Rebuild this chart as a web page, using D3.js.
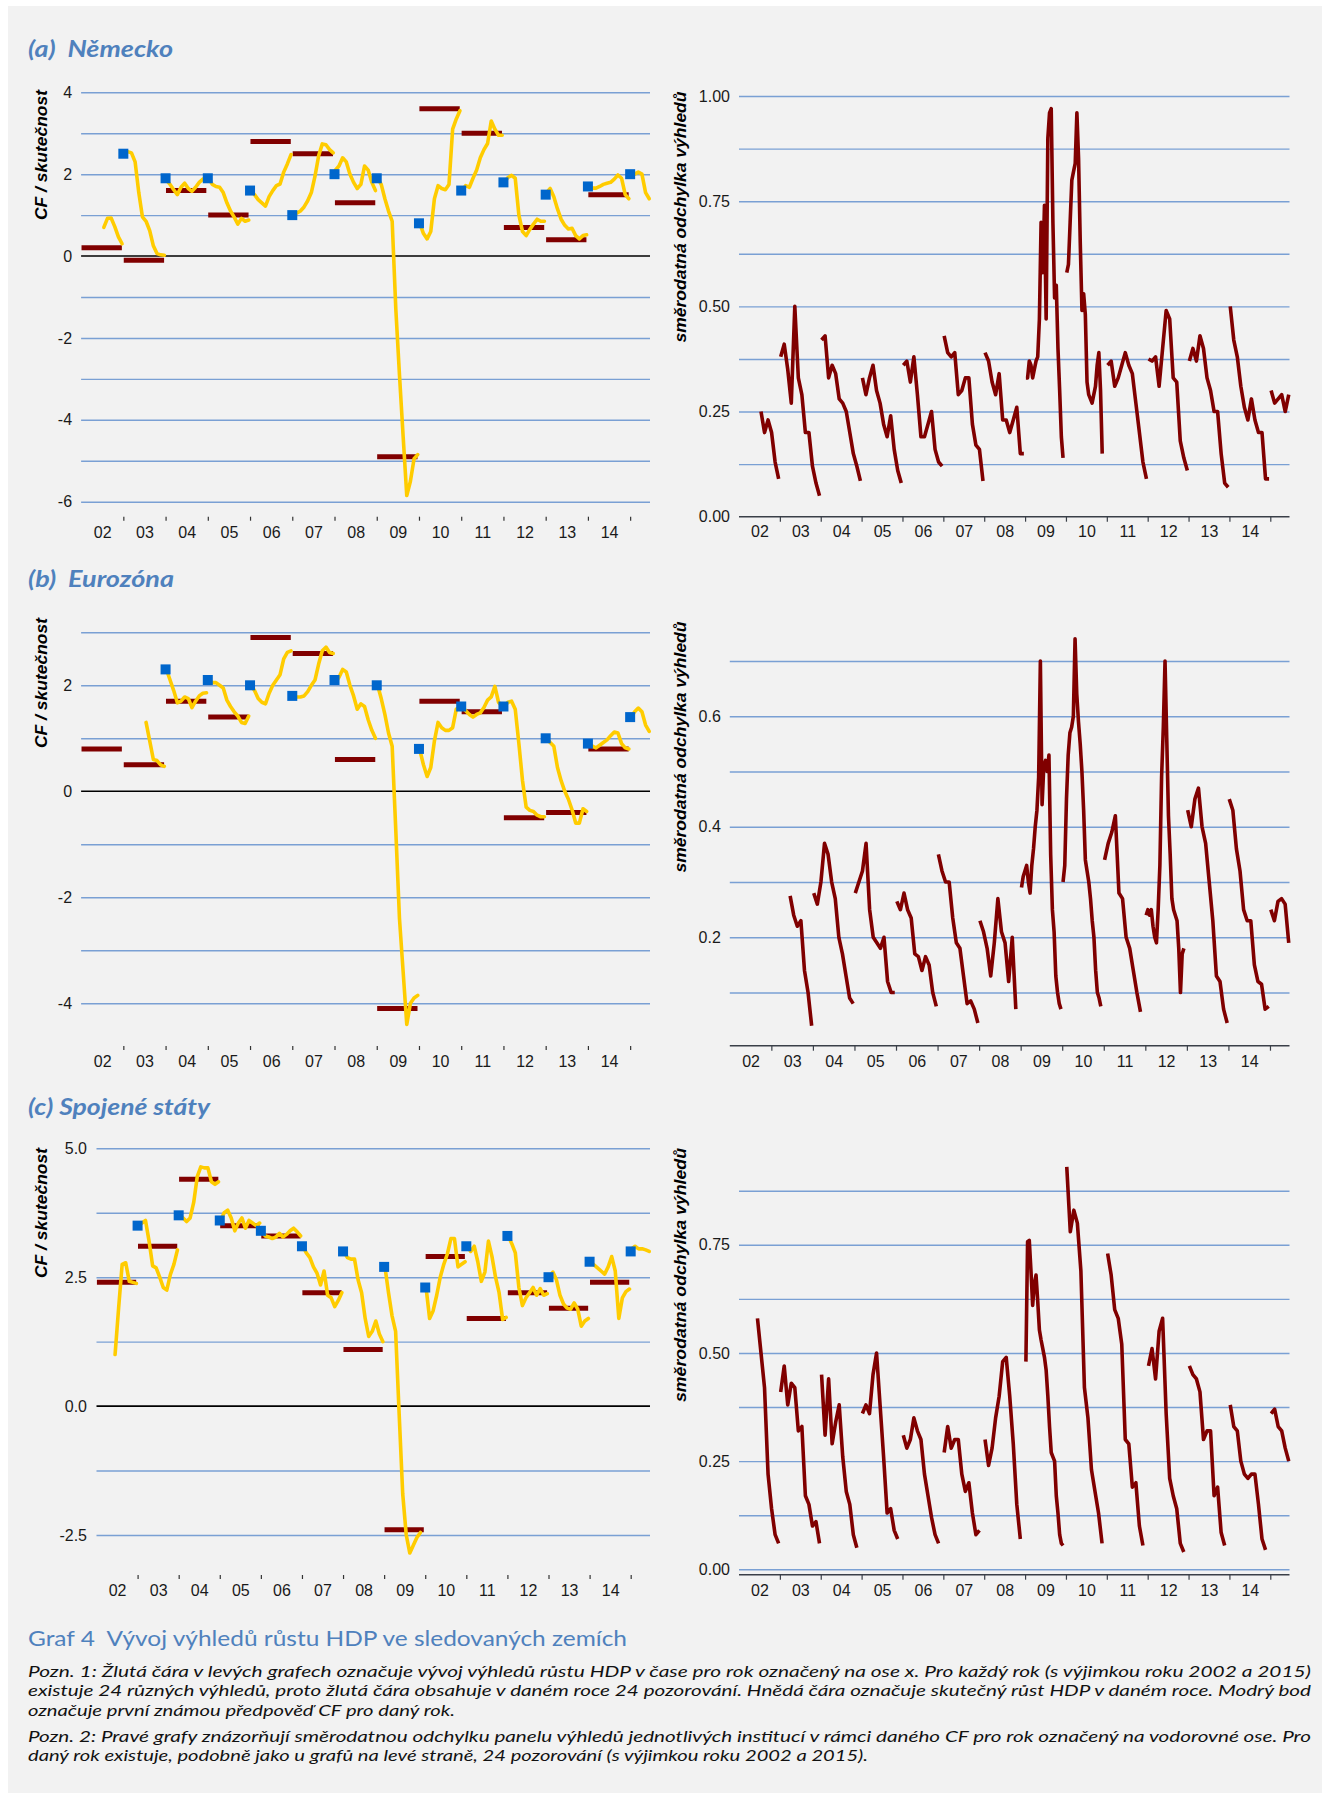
<!DOCTYPE html>
<html><head><meta charset="utf-8">
<script src="https://cdn.jsdelivr.net/npm/d3@7/dist/d3.min.js"></script>
<style>body{margin:0;background:#fff}svg{display:block}text{white-space:pre}</style>
</head><body>
<svg id="chart" width="1322" height="1793"></svg>
<script>
// ---------- DATA ----------
const years = [2002,2003,2004,2005,2006,2007,2008,2009,2010,2011,2012,2013,2014,2015];
const yearLabels = ["02","03","04","05","06","07","08","09","10","11","12","13","14"];
const boundaryYears = [2003,2004,2005,2006,2007,2008,2009,2010,2011,2012,2013,2014,2015];

// actual GDP growth (brown bars), 2002..2014
const deActual = [0.2,-0.1,1.6,1.0,2.8,2.5,1.3,-4.9,3.6,3.0,0.7,0.4,1.5];
const ezActual = [0.8,0.5,1.7,1.4,2.9,2.6,0.6,-4.1,1.7,1.5,-0.5,-0.4,0.8];
const usActual = [2.4,3.1,4.4,3.5,3.3,2.2,1.1,-2.4,2.9,1.7,2.2,1.9,2.4];

// first known CF forecast (blue squares), 2003..2015
const deFirst = [2.5,1.9,1.9,1.6,1.0,2.0,1.9,0.8,1.6,1.8,1.5,1.7,2.0];
const ezFirst = [null,2.3,2.1,2.0,1.8,2.1,2.0,0.8,1.6,1.6,1.0,0.9,1.4];
const usFirst = [3.5,3.7,3.6,3.4,3.1,3.0,2.7,2.3,3.1,3.3,2.5,2.8,3.0];

// forecast paths (yellow), one array per target year 2002..2015
const deYellow = [
 [null,null,null,null,null,null,0.7,0.92,0.93,0.72,0.47,0.3],
 [2.5,2.55,2.52,2.3,1.55,0.96,0.85,0.62,0.25,0.06,0.03,0.02],
 [1.85,1.75,1.62,1.5,1.68,1.78,1.65,1.58,1.68,1.8,1.88,1.92],
 [1.9,1.75,1.7,1.68,1.55,1.3,1.1,0.95,0.78,0.92,0.85,0.88],
 [1.6,1.5,1.38,1.3,1.22,1.45,1.6,1.72,1.76,2.05,2.25,2.48],
 [1.02,1.05,1.1,1.2,1.35,1.55,1.95,2.45,2.74,2.72,2.6,2.52],
 [2.1,2.2,2.4,2.3,2.0,1.8,1.65,1.75,2.2,2.1,1.8,1.6],
 [1.9,1.75,1.4,1.1,0.85,-1.3,-2.9,-4.4,-5.85,-5.5,-4.95,-4.85],
 [0.8,0.55,0.42,0.6,1.4,1.72,1.65,1.62,1.75,3.1,3.35,3.55],
 [1.6,1.72,1.68,1.9,2.1,2.4,2.6,2.75,3.3,3.1,2.95,2.95],
 [1.8,1.92,1.97,1.9,1.0,0.6,0.5,0.65,0.78,0.9,0.85,0.85],
 [1.55,1.65,1.45,1.15,0.9,0.75,0.66,0.68,0.5,0.42,0.5,0.52],
 [1.7,1.66,1.66,1.7,1.75,1.78,1.8,1.88,1.98,1.9,1.5,1.4],
 [2.0,2.0,2.05,2.0,1.55,1.4,null,null,null,null,null,null]
];
const ezYellow = [
 [null,null,null,null,null,null,null,null,null,null,null,null],
 [null,null,null,null,null,null,1.3,0.95,0.6,0.58,0.5,0.47],
 [2.3,2.1,1.9,1.67,1.7,1.78,1.75,1.58,1.7,1.8,1.85,1.86],
 [2.1,2.05,2.05,2.0,1.95,1.72,1.6,1.5,1.42,1.3,1.28,1.42],
 [2.0,1.9,1.75,1.68,1.65,1.85,2.0,2.1,2.2,2.5,2.62,2.65],
 [1.8,1.78,1.78,1.8,1.88,2.0,2.1,2.4,2.65,2.72,2.62,2.6],
 [2.05,2.15,2.3,2.25,2.0,1.8,1.55,1.65,1.6,1.35,1.15,1.0],
 [2.0,1.75,1.45,1.1,0.85,-0.75,-2.4,-3.4,-4.4,-4.0,-3.9,-3.85],
 [0.78,0.5,0.28,0.45,0.95,1.3,1.2,1.15,1.15,1.2,1.55,1.6],
 [1.6,1.52,1.45,1.4,1.45,1.48,1.58,1.72,1.78,1.98,1.68,1.6],
 [1.6,1.68,1.7,1.55,0.9,0.2,-0.3,-0.36,-0.38,-0.45,-0.48,-0.48],
 [1.0,0.92,0.85,0.45,0.2,0.0,-0.15,-0.35,-0.6,-0.6,-0.33,-0.38],
 [0.9,0.85,0.82,0.87,0.92,0.97,1.05,1.12,1.1,0.9,0.82,0.8],
 [1.4,1.5,1.57,1.5,1.25,1.13,null,null,null,null,null,null]
];
const usYellow = [
 [null,null,null,null,null,1.0,1.9,2.75,2.78,2.42,2.4,2.38],
 [3.5,3.55,3.6,3.2,2.72,2.68,2.5,2.3,2.25,2.55,2.75,3.03],
 [3.7,3.65,3.58,3.65,3.95,4.45,4.64,4.62,4.62,4.35,4.3,4.35],
 [3.6,3.75,3.8,3.65,3.4,3.55,3.65,3.45,3.6,3.55,3.5,3.55],
 [3.4,3.3,3.28,3.25,3.28,3.35,3.28,3.33,3.4,3.45,3.38,3.3],
 [3.1,2.97,2.88,2.7,2.58,2.35,2.62,2.15,2.1,1.93,2.05,2.2],
 [3.0,2.88,2.85,2.85,2.45,2.2,1.7,1.35,1.45,1.65,1.4,1.25],
 [2.7,2.2,1.75,1.45,-0.15,-1.7,-2.5,-2.85,-2.7,-2.55,-2.45,null],
 [2.3,1.7,1.85,2.15,2.5,2.75,2.95,3.25,3.25,2.7,2.75,2.8],
 [3.1,3.0,3.1,2.8,2.42,2.6,3.2,2.9,2.5,2.2,1.68,1.72],
 [3.3,3.15,2.97,2.3,1.95,2.1,2.2,2.3,2.15,2.28,2.15,2.18],
 [2.5,2.6,2.45,2.15,1.98,1.9,1.88,2.0,1.88,1.55,1.65,1.7],
 [2.8,2.74,2.68,2.62,2.56,2.7,2.9,2.62,1.7,2.1,2.22,2.27],
 [3.05,3.1,3.05,3.05,3.03,3.0,null,null,null,null,null,null]
];

// standard deviation of the panel forecasts, one array per target year 2002..2015
const deStd = [
 [null,null,null,null,null,null,0.25,0.2,0.23,0.2,0.13,0.09],
 [0.38,0.41,0.35,0.27,0.5,0.33,0.29,0.2,0.2,0.12,0.08,0.05],
 [0.42,0.43,0.33,0.36,0.34,0.28,0.27,0.25,0.2,0.15,0.12,0.085],
 [0.33,0.29,0.33,0.36,0.3,0.27,0.22,0.19,0.24,0.16,0.11,0.08],
 [0.36,0.37,0.32,0.38,0.29,0.19,0.19,0.22,0.25,0.16,0.13,0.12],
 [0.43,0.39,0.38,0.39,0.29,0.3,0.33,0.33,0.22,0.17,0.16,0.085],
 [0.39,0.37,0.32,0.29,0.34,0.23,0.23,0.2,0.23,0.26,0.15,0.15],
 [0.33,0.33,0.37,0.36,0.33,0.35,0.37,0.38,0.47,0.7,0.58,0.74,0.47,0.9,0.96,0.97,0.7,0.52,0.55,0.4,0.3,0.19,0.14,null],
 [0.58,0.6,0.7,0.8,0.82,0.84,0.96,0.85,0.65,0.49,0.53,0.48,0.32,0.29,0.28,0.27,0.29,0.31,0.36,0.39,0.3,0.15,null,null],
 [0.36,0.37,0.31,0.33,0.36,0.39,0.36,0.34,0.27,0.2,0.13,0.09],
 [0.375,0.37,0.38,0.31,0.4,0.49,0.47,0.33,0.32,0.18,0.14,0.11],
 [0.37,0.4,0.37,0.43,0.4,0.33,0.3,0.25,0.25,0.15,0.08,0.07],
 [0.5,0.42,0.38,0.31,0.26,0.23,0.28,0.23,0.2,0.2,0.09,0.09],
 [0.3,0.27,0.28,0.29,0.25,0.29,null,null,null,null,null,null]
];
const ezStd = [
 [null,null,null,null,null,null,null,null,null,null,null,null],
 [null,null,null,null,null,0.275,0.24,0.22,0.23,0.14,0.1,0.04],
 [0.28,0.26,0.3,0.37,0.35,0.3,0.27,0.2,0.17,0.13,0.09,0.08],
 [0.28,0.3,0.32,0.37,0.25,0.2,0.19,0.18,0.2,0.12,0.1,0.1],
 [0.265,0.25,0.28,0.25,0.235,0.17,0.165,0.14,0.165,0.15,0.1,0.075],
 [0.35,0.32,0.3,0.3,0.235,0.19,0.18,0.13,0.08,0.085,0.07,0.045],
 [0.23,0.21,0.18,0.13,0.19,0.27,0.21,0.19,0.12,0.2,0.07,null],
 [0.29,0.31,0.32,0.33,0.3,0.28,0.33,0.36,0.4,0.43,0.49,0.7,0.44,0.51,0.52,0.5,0.53,0.35,0.25,0.21,0.13,0.1,0.08,0.07],
 [0.3,0.33,0.45,0.53,0.57,0.58,0.6,0.74,0.64,0.59,0.55,0.5,0.43,0.34,0.32,0.3,0.27,0.23,0.2,0.14,0.1,0.09,0.075,null],
 [0.34,0.37,0.39,0.42,0.28,0.27,0.2,0.18,0.14,0.1,0.065,null],
 [0.24,0.25,0.24,0.25,0.22,0.2,0.19,0.25,0.33,0.49,0.58,0.7,0.56,0.42,0.35,0.27,0.25,0.24,0.23,0.18,0.1,0.17,0.18,null],
 [0.43,0.4,0.45,0.47,0.4,0.37,0.3,0.23,0.13,0.12,0.07,0.045],
 [0.45,0.43,0.36,0.32,0.25,0.23,0.23,0.15,0.12,0.115,0.07,0.075],
 [0.25,0.23,0.265,0.27,0.26,0.19,null,null,null,null,null,null]
];
const usStd = [
 [null,null,null,null,null,0.58,0.5,0.42,0.22,0.14,0.08,0.06],
 [0.41,0.47,0.38,0.43,0.42,0.32,0.33,0.17,0.15,0.1,0.11,0.06],
 [0.45,0.31,0.44,0.29,0.34,0.38,0.26,0.18,0.15,0.08,0.05,null],
 [0.36,0.38,0.36,0.45,0.5,0.38,0.26,0.13,0.14,0.09,0.07,null],
 [0.31,0.28,0.3,0.35,0.32,0.3,0.22,0.17,0.12,0.08,0.06,null],
 [0.27,0.33,0.28,0.3,0.3,0.22,0.18,0.2,0.13,0.08,0.09,null],
 [0.3,0.24,0.28,0.35,0.4,0.48,0.49,0.4,0.29,0.15,0.07,null],
 [0.48,0.757,0.76,0.69,0.61,0.66,0.68,0.62,0.553,0.53,0.51,0.49,0.46,0.4,0.33,0.27,0.26,0.25,0.17,0.13,0.08,0.06,0.055,null],
 [0.93,0.78,0.83,0.8,0.69,0.42,0.35,0.23,0.18,0.13,0.06,null],
 [0.73,0.68,0.6,0.58,0.52,0.3,0.29,0.19,0.2,0.1,0.055,null],
 [0.47,0.51,0.44,0.55,0.58,0.36,0.21,0.17,0.14,0.06,0.04,null],
 [0.47,0.45,0.44,0.41,0.3,0.32,0.32,0.17,0.19,0.085,0.055,null],
 [0.38,0.33,0.32,0.25,0.22,0.21,0.22,0.22,0.15,0.07,0.045,null],
 [0.36,0.37,0.33,0.32,0.28,0.25,null,null,null,null,null,null]
];

// axis tick values
const deLeftGrid = [-6,-5,-4,-3,-2,-1,0,1,2,3,4];
const deLeftTicks = [-6,-4,-2,0,2,4];
const ezLeftGrid = [-4,-3,-2,-1,0,1,2,3];
const ezLeftTicks = [-4,-2,0,2];
const usLeftGrid = [-2.5,-1.25,0,1.25,2.5,3.75,5];
const usLeftTicks = [-2.5,0,2.5,5];
const deRightGrid = [0.125,0.25,0.375,0.5,0.625,0.75,0.875,1.0];
const deRightTicks = [0,0.25,0.5,0.75,1.0];
const ezRightGrid = [0.1,0.2,0.3,0.4,0.5,0.6,0.7];
const ezRightTicks = [0.2,0.4,0.6];
const usRightGrid = [0,0.125,0.25,0.375,0.5,0.625,0.75,0.875];
const usRightTicks = [0,0.25,0.5,0.75];

const titles = ["(a)  Německo","(b)  Eurozóna","(c) Spojené státy"];
const leftTitle = "CF / skutečnost";
const rightTitle = "směrodatná odchylka výhledů";
const caption = "Graf 4  Vývoj výhledů růstu HDP ve sledovaných zemích";
const notes = [
 "Pozn. 1: Žlutá čára v levých grafech označuje vývoj výhledů růstu HDP v čase pro rok označený na ose x. Pro každý rok (s výjimkou roku 2002 a 2015)",
 "existuje 24 různých výhledů, proto žlutá čára obsahuje v daném roce 24 pozorování. Hnědá čára označuje skutečný růst HDP v daném roce. Modrý bod",
 "označuje první známou předpověď CF pro daný rok.",
 "Pozn. 2: Pravé grafy znázorňují směrodatnou odchylku panelu výhledů jednotlivých institucí v rámci daného CF pro rok označený na vodorovné ose. Pro",
 "daný rok existuje, podobně jako u grafů na levé straně, 24 pozorování (s výjimkou roku 2002 a 2015)."
];

// ---------- STYLE ----------
const C = {bg:"#f2f2f2", grid:"#7aa0d4", yellow:"#ffcc00", brown:"#800000", blue:"#0066cc", title:"#4f81bd", text:"#1a1a1a"};
const AX_FONT = "'Liberation Sans', Arial, sans-serif";

const svg = d3.select("#chart");
svg.append("rect").attr("x",8).attr("y",6).attr("width",1314).attr("height",1787).attr("fill",C.bg);

const minusFmt = d => String(d);

function styleAxis(g){
  g.select(".domain").remove();
  g.selectAll("text").attr("font-family",AX_FONT).attr("font-size",16).attr("fill",C.text);
}

function drawLeft(L, actual, first, yellow, gridVals, tickVals, fmt){
  const x = d3.scaleLinear().domain([2002, 2015.47]).range([L.x0, 650]);
  const y = d3.scaleLinear().domain(L.yDom).range(L.yRange);
  const g = svg.append("g");
  const grid = g.append("g").attr("transform",`translate(${L.x0},0)`)
    .call(d3.axisLeft(y).tickValues(gridVals.filter(v=>v!==0)).tickSize(-(650-L.x0)).tickFormat(""));
  grid.select(".domain").remove();
  grid.selectAll("line").attr("stroke",C.grid).attr("stroke-width",1.4);
  g.append("line").attr("x1",L.x0).attr("x2",650).attr("y1",y(0)).attr("y2",y(0)).attr("stroke","#000").attr("stroke-width",1.6);
  const ya = g.append("g").attr("transform",`translate(${L.x0},0)`)
    .call(d3.axisLeft(y).tickValues(tickVals).tickSize(0).tickPadding(L.pad).tickFormat(fmt));
  styleAxis(ya);
  const xt = g.append("g").attr("transform",`translate(0,${L.tickY})`)
    .call(d3.axisBottom(x).tickValues(boundaryYears).tickSize(4).tickFormat(""));
  xt.select(".domain").remove();
  xt.selectAll("line").attr("stroke","#333").attr("stroke-width",1.2);
  const xl = g.append("g").attr("transform",`translate(0,${L.labelY})`)
    .call(d3.axisBottom(x).tickValues(years.slice(0,13).map(v=>v+0.5)).tickSize(0).tickPadding(0).tickFormat((d,i)=>yearLabels[i]));
  styleAxis(xl);
  xl.selectAll("line").remove();
  g.append("g").selectAll("line").data(actual).join("line")
    .attr("x1",(d,i)=>x(years[i]+0.01)).attr("x2",(d,i)=>x(years[i]+0.965))
    .attr("y1",d=>y(d)).attr("y2",d=>y(d))
    .attr("stroke",C.brown).attr("stroke-width",5);
  const line = d3.line().defined(d=>d.v!=null).x(d=>x(d.t)).y(d=>y(d.v));
  g.append("g").selectAll("path").data(yellow).join("path")
    .attr("d",(arr,i)=>line(arr.map((v,k)=>({t:years[i]+0.02+k*0.95/(arr.length-1), v}))) || "")
    .attr("fill","none").attr("stroke",C.yellow).attr("stroke-width",3.6)
    .attr("stroke-linejoin","round").attr("stroke-linecap","round");
  const fdata = first.map((v,i)=>({yr:boundaryYears[i], v})).filter(d=>d.v!=null);
  g.append("g").selectAll("rect").data(fdata).join("rect")
    .attr("x",d=>x(d.yr)-5).attr("y",d=>y(d.v)-5).attr("width",10).attr("height",10)
    .attr("fill",C.blue);
}

function drawRight(R, std, gridVals, tickVals, fmt){
  const x = d3.scaleLinear().domain([2002, 2015.47]).range([R.x0, 1289.5]);
  const y = d3.scaleLinear().domain(R.yDom).range(R.yRange);
  const g = svg.append("g");
  const grid = g.append("g").attr("transform",`translate(${R.x0},0)`)
    .call(d3.axisLeft(y).tickValues(gridVals).tickSize(-(1289.5-R.x0)).tickFormat(""));
  grid.select(".domain").remove();
  grid.selectAll("line").attr("stroke",C.grid).attr("stroke-width",1.4);
  g.append("line").attr("x1",R.x0).attr("x2",1289.5).attr("y1",R.axisY).attr("y2",R.axisY)
    .attr("stroke","#3a3f48").attr("stroke-width",1.6);
  const xt = g.append("g").attr("transform",`translate(0,${R.axisY})`)
    .call(d3.axisBottom(x).tickValues(boundaryYears).tickSize(5).tickFormat(""));
  xt.select(".domain").remove();
  xt.selectAll("line").attr("stroke","#3a3f48").attr("stroke-width",1.2);
  const ya = g.append("g").attr("transform",`translate(${R.x0},0)`)
    .call(d3.axisLeft(y).tickValues(tickVals).tickSize(0).tickPadding(R.pad).tickFormat(fmt));
  styleAxis(ya);
  const xl = g.append("g").attr("transform",`translate(0,${R.labelY})`)
    .call(d3.axisBottom(x).tickValues(years.slice(0,13).map(v=>v+0.5)).tickSize(0).tickPadding(0).tickFormat((d,i)=>yearLabels[i]));
  styleAxis(xl);
  xl.selectAll("line").remove();
  const line = d3.line().defined(d=>d.v!=null).x(d=>x(d.t)).y(d=>y(d.v));
  g.append("g").selectAll("path").data(std).join("path")
    .attr("d",(arr,i)=>line(arr.map((v,k)=>({t:years[i]+0.02+k*0.95/(arr.length-1), v}))) || "")
    .attr("fill","none").attr("stroke",C.brown).attr("stroke-width",3.6)
    .attr("stroke-linejoin","round").attr("stroke-linecap","butt");
}

function vTitle(txt, cx, cy, len){
  svg.append("text").attr("transform",`translate(${cx},${cy}) rotate(-90)`)
    .attr("text-anchor","middle").attr("font-family",AX_FONT).attr("font-size",16)
    .attr("font-weight","bold").attr("font-style","italic").attr("fill","#000")
    .attr("textLength",len).attr("lengthAdjust","spacingAndGlyphs").text(txt);
}

function pTitle(txt, x, y, len){
  svg.append("text").attr("x",x).attr("y",y).attr("font-family","Lato, 'Open Sans', sans-serif")
    .attr("font-size",22).attr("font-weight","bold").attr("font-style","italic").attr("fill",C.title)
    .attr("xml:space","preserve")
    .attr("textLength",len).attr("lengthAdjust","spacingAndGlyphs").text(txt);
}

// ---------- PANELS ----------
const f1 = d=>d.toFixed(1), f2 = d=>d.toFixed(2);

drawLeft({x0:81.1, yDom:[-6,4], yRange:[501.7,92.3], pad:9, tickY:516.7, labelY:526.3},
  deActual, deFirst, deYellow, deLeftGrid, deLeftTicks, minusFmt);
drawLeft({x0:81.1, yDom:[-4,3], yRange:[1003.3,632.3], pad:9, tickY:1046, labelY:1055.3},
  ezActual, ezFirst, ezYellow, ezLeftGrid, ezLeftTicks, minusFmt);
drawLeft({x0:96.5, yDom:[-2.5,5], yRange:[1535,1148.3], pad:9.5, tickY:1575, labelY:1584.3},
  usActual, usFirst, usYellow, usLeftGrid, usLeftTicks, f1);

drawRight({x0:739, yDom:[0,1], yRange:[516.7,96], axisY:516.7, pad:9, labelY:526},
  deStd, deRightGrid, deRightTicks, f2);
drawRight({x0:729.8, yDom:[0.2,0.7], yRange:[937.3,661], axisY:1045.7, pad:9, labelY:1056},
  ezStd, ezRightGrid, ezRightTicks, f1);
drawRight({x0:739, yDom:[0,0.875], yRange:[1569.3,1190.7], axisY:1574.7, pad:9, labelY:1584.3},
  usStd, usRightGrid, usRightTicks, f2);

pTitle(titles[0], 28, 57, 145);
pTitle(titles[1], 28, 587, 146);
pTitle(titles[2], 28, 1115, 182);

vTitle(leftTitle, 47, 155, 130);
vTitle(leftTitle, 47, 683, 130);
vTitle(leftTitle, 47, 1213, 130);
vTitle(rightTitle, 686, 217, 251);
vTitle(rightTitle, 686, 747, 251);
vTitle(rightTitle, 686, 1275, 254);

svg.append("text").attr("x",28).attr("y",1646).attr("font-family","Lato, 'Open Sans', sans-serif")
  .attr("font-size",21).attr("fill",C.title).attr("xml:space","preserve")
  .attr("textLength",599).attr("lengthAdjust","spacingAndGlyphs").text(caption);
const noteY = [1677,1696,1715.5,1742,1761];
const noteLen = [1283,1283,427,1283,840];
notes.forEach((t,i)=>{
  svg.append("text").attr("x",28).attr("y",noteY[i]).attr("font-family","Lato, 'Open Sans', sans-serif")
    .attr("font-size",16).attr("font-style","italic").attr("fill","#111")
    .attr("textLength",noteLen[i]).attr("lengthAdjust","spacingAndGlyphs").text(t);
});
</script>
</body></html>
